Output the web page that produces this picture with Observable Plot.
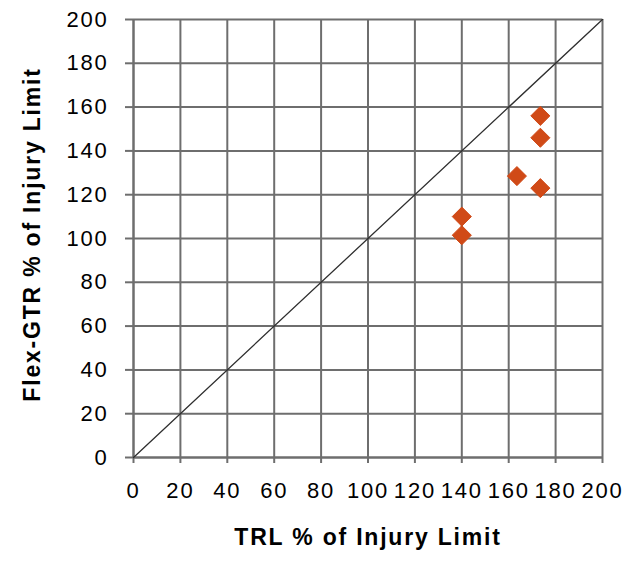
<!DOCTYPE html>
<html>
<head>
<meta charset="utf-8">
<script src="https://cdn.jsdelivr.net/npm/d3@7"></script>
<script src="https://cdn.jsdelivr.net/npm/@observablehq/plot@0.6"></script>
<style>
  html, body { margin: 0; padding: 0; background: white; }
</style>
</head>
<body>
<div id="chart"></div>
<script>
const trl = [140, 140, 163.5, 173.5, 173.5, 173.5];
const flexGtr = [101.5, 110, 128.5, 123, 146, 156];
const tickValues = [0, 20, 40, 60, 80, 100, 120, 140, 160, 180, 200];
const parityLine = [0, 200];
const xTitle = "TRL % of Injury Limit";
const yTitle = "Flex-GTR % of Injury Limit";

const points = trl.map((x, i) => ({x, y: flexGtr[i]}));
const gridColor = "#6e6e6e";

const chart = Plot.plot({
  width: 627,
  height: 564,
  marginLeft: 133,
  marginRight: 25,
  marginTop: 19,
  marginBottom: 107,
  style: {
    fontFamily: "Arial, 'Liberation Sans', sans-serif",
    fontSize: "22px",
    letterSpacing: "1.8px",
    background: "white",
    color: "black"
  },
  x: {domain: [0, 200]},
  y: {domain: [0, 200]},
  marks: [
    Plot.gridX(tickValues, {stroke: gridColor, strokeOpacity: 1, strokeWidth: 2}),
    Plot.gridY(tickValues, {stroke: gridColor, strokeOpacity: 1, strokeWidth: 2}),
    Plot.ruleX([0], {stroke: gridColor, strokeWidth: 2}),
    Plot.ruleY([0], {stroke: gridColor, strokeWidth: 2}),
    Plot.axisX({ticks: tickValues, tickSize: 6, tickPadding: 19, label: null, stroke: gridColor, strokeWidth: 2, fill: "black", fontSize: 22}),
    Plot.axisY({ticks: tickValues, tickSize: 8, tickPadding: 17, label: null, stroke: gridColor, strokeWidth: 2, fill: "black", fontSize: 22}),
    Plot.line(parityLine, {x: d => d, y: d => d, stroke: "#2f2f2f", strokeWidth: 1.3}),
    Plot.dot(points, {x: "x", y: "y", symbol: "diamond2", r: 8.6, fill: "#d04a17", stroke: "#d04a17", strokeWidth: 1, strokeLinejoin: "round"}),
    Plot.text([xTitle], {text: d => d, frameAnchor: "bottom", dy: 87, fontSize: 23, fontWeight: "bold", fill: "black"}),
    Plot.text([yTitle], {text: d => d, frameAnchor: "left", textAnchor: "middle", dx: -101, dy: -4, rotate: -90, fontSize: 23, fontWeight: "bold", fill: "black"})
  ]
});
document.getElementById("chart").appendChild(chart);
</script>
</body>
</html>
